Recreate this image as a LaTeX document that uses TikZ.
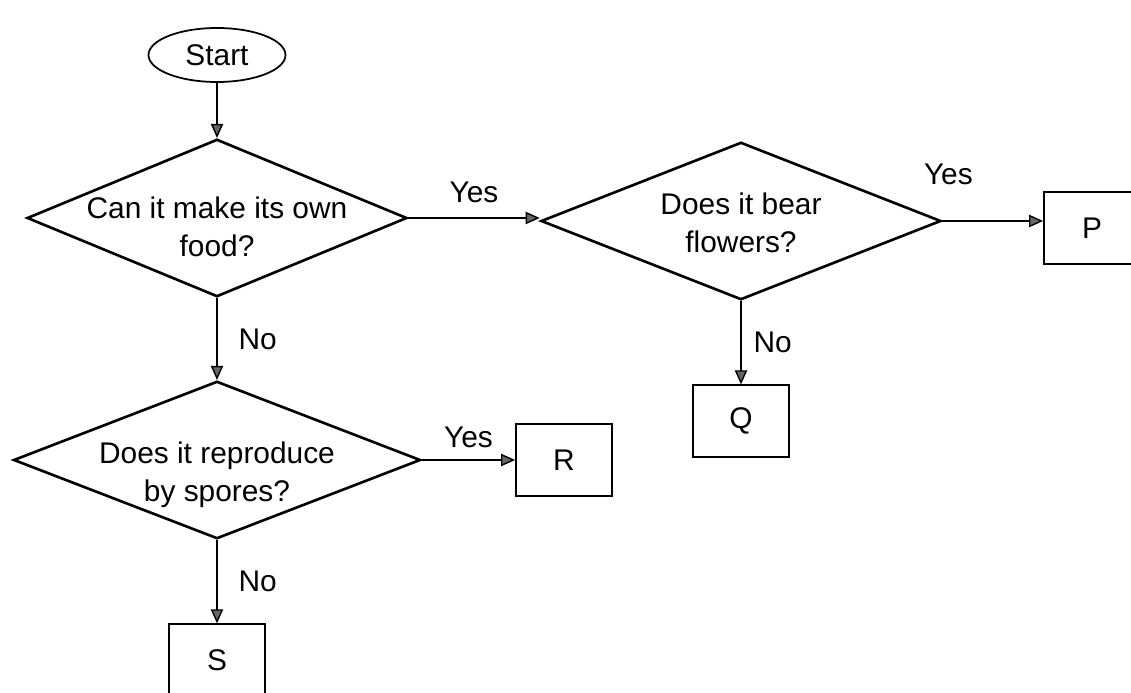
\documentclass[tikz,border=0pt]{standalone}
\usepackage{fontspec}
\setmainfont{Liberation Sans}
\usetikzlibrary{shapes.geometric, arrows.meta}
\tikzstyle{startstop} = [ellipse, minimum width=2.74cm, minimum height=1.08cm, inner sep=0pt, text centered, draw=black, line width=1pt]
\tikzstyle{decision} = [diamond, aspect=2.5, minimum width=8cm, minimum height=3.15cm, inner sep=-8pt, align=center, draw=black, line width=1.5pt, text depth=0pt]
\tikzstyle{outcome} = [rectangle, minimum width=1.92cm, minimum height=1.43cm, text centered, draw=black, line width=1pt]
\tikzstyle{arrow} = [line width=0.8pt,-{Triangle[length=8pt,width=7pt,fill=black!60]}]
\begin{document}
\begin{tikzpicture}[node distance=4cm, font={\fontsize{17}{22}\selectfont}]
	\useasboundingbox (0,0) rectangle (22.62,-13.86);
	\node (start) [startstop] at (4.34,-1.10) {Start};
	\node (food) [decision, below of=start, yshift=0.74cm, minimum width=7.6cm, text height=44.2pt] {Can it make its own\\food?};
	\node (flowers) [decision, right of=food, xshift=6.48cm, yshift=-0.06cm, text height=36.3pt] {Does it bear\\flowers?};
	\node (P) [outcome, right of=flowers, xshift=3.02cm, yshift=-0.14cm] {P};
	\node (Q) [outcome, below of=flowers] {Q};
	\node (spores) [decision, below of=food, yshift=-0.84cm, minimum width=8.14cm, text height=47.6pt] {Does it reproduce\\by spores?};
	\node (R) [outcome, right of=spores, xshift=2.94cm] {R};
	\node (S) [outcome, below of=spores] {S};
	\draw [arrow] (start) -- (food);
	\draw [arrow] (food) -- node[above=0.18cm] {Yes} (food -| flowers.west);
	\draw [arrow] (flowers.east) -- node[pos=0.06, above=0.6cm] {Yes} (flowers.east -| P.west);
	\draw [arrow] (flowers) -- node[right=0.12cm] {No} (Q);
	\draw [arrow] (food) -- node[right=0.3cm] {No} (spores);
	\draw [arrow] (spores) -- node[above=0.12cm] {Yes} (R);
	\draw [arrow] (spores) -- node[right=0.3cm] {No} (S);
\end{tikzpicture}
\end{document}
